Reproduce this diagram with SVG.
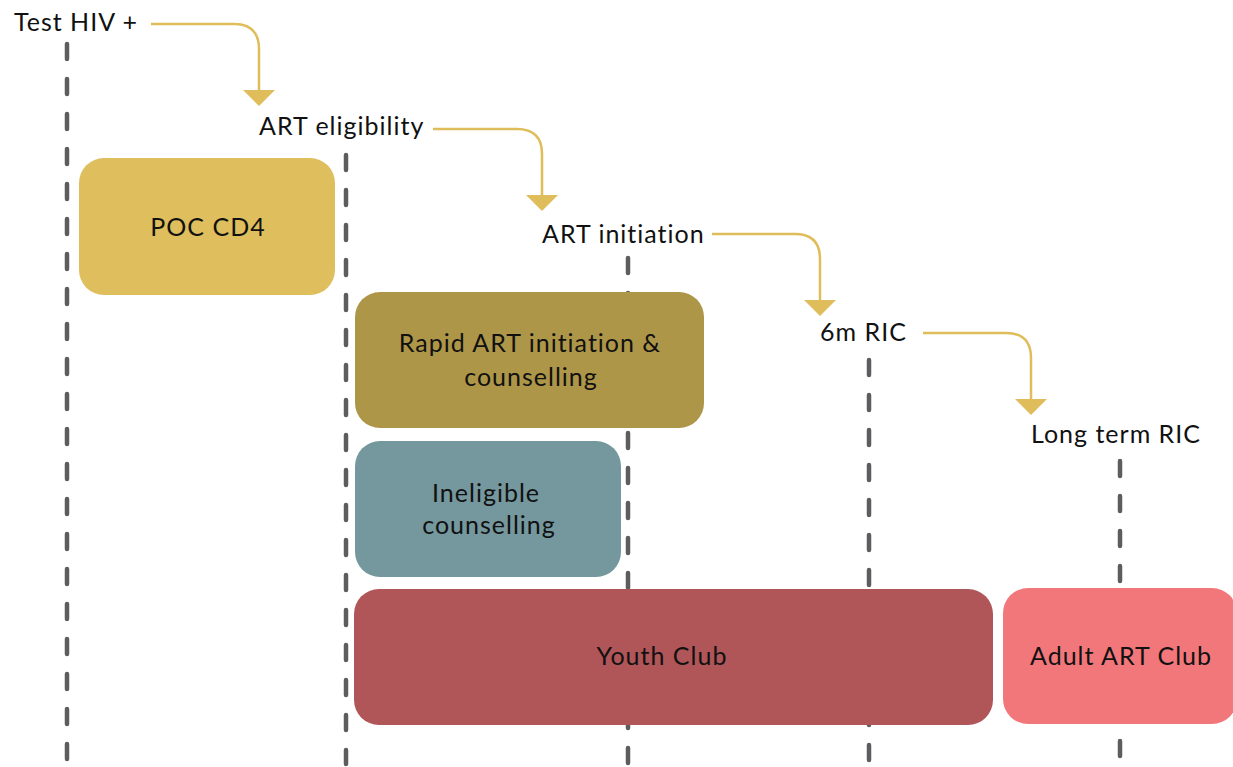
<svg xmlns="http://www.w3.org/2000/svg" width="1233" height="767" viewBox="0 0 1233 767">
<style>
.vl{stroke:#5d5d5f;stroke-width:4.5;stroke-dasharray:15 20;stroke-linecap:round;fill:none}
.ar{stroke:#e0bd5b;stroke-width:2.5;fill:none}
.ah{fill:#e0bd5b}
.t{font-family:Lato,"Noto Sans",sans-serif;font-size:25px;letter-spacing:1px;fill:#111}
.c{text-anchor:middle}
</style>
<rect width="1233" height="767" fill="#fff"/>
<g id="timelines">
<line class="vl" x1="67" y1="44" x2="67" y2="764"/>
<line class="vl" x1="346" y1="155" x2="346" y2="764"/>
<line class="vl" x1="628" y1="258" x2="628" y2="764"/>
<line class="vl" x1="869" y1="360" x2="869" y2="764"/>
<line class="vl" x1="1120" y1="461" x2="1120" y2="764"/>
</g>
<g id="connectors">
<path class="ar" d="M151 24 H234 Q259 24 259 49 V91"/>
<polygon class="ah" points="243,90 275,90 259,106"/>
<path class="ar" d="M433 129 H517 Q542 129 542 154 V196"/>
<polygon class="ah" points="526,195 558,195 542,211"/>
<path class="ar" d="M712 234 H795 Q820 234 820 259 V301"/>
<polygon class="ah" points="804,300 836,300 820,316"/>
<path class="ar" d="M923 333 H1006 Q1031 333 1031 358 V400"/>
<polygon class="ah" points="1015,399 1047,399 1031,415"/>
</g>
<g id="label-test"><text class="t" x="14" y="31">Test HIV +</text></g>
<g id="label-elig"><text class="t" x="259" y="135">ART eligibility</text></g>
<g id="label-init"><text class="t" x="542" y="243">ART initiation</text></g>
<g id="label-6m"><text class="t" x="820" y="341">6m RIC</text></g>
<g id="label-lt"><text class="t" x="1031" y="443">Long term RIC</text></g>
<g id="poc">
<rect x="79" y="158" width="256" height="137" rx="25" fill="#dfbe5d"/>
<text class="t c" x="208" y="236">POC CD4</text>
</g>
<g id="rapid">
<rect x="355" y="292" width="349" height="136" rx="25" fill="#ae9648"/>
<text class="t c" x="530" y="352">Rapid ART initiation &amp;</text>
<text class="t c" x="531" y="386">counselling</text>
</g>
<g id="ineligible">
<rect x="355" y="441" width="266" height="136" rx="25" fill="#74989d"/>
<text class="t c" x="486" y="502">Ineligible</text>
<text class="t c" x="489" y="534">counselling</text>
</g>
<g id="youth">
<rect x="354" y="589" width="639" height="136" rx="25" fill="#b05558"/>
<text class="t c" x="662" y="665">Youth Club</text>
</g>
<g id="adult">
<rect x="1003" y="588" width="234" height="136" rx="25" fill="#f2777b"/>
<text class="t c" x="1121" y="665">Adult ART Club</text>
</g>
</svg>
